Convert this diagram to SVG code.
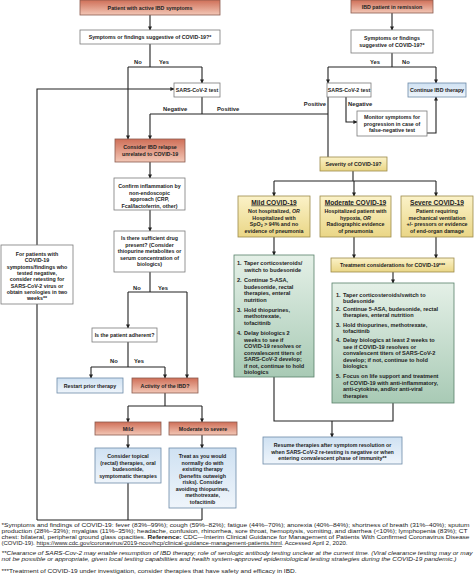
<svg xmlns="http://www.w3.org/2000/svg" width="474" height="587" viewBox="0 0 474 587">
<defs>
<linearGradient id="gRed" x1="0" y1="0" x2="0" y2="1"><stop offset="0" stop-color="#cf6f58"/><stop offset="1" stop-color="#f3c7b6"/></linearGradient>
<linearGradient id="gYel" x1="0" y1="0" x2="0" y2="1"><stop offset="0" stop-color="#fbf2c8"/><stop offset="1" stop-color="#ead686"/></linearGradient>
<linearGradient id="gGrn" x1="0" y1="0" x2="0" y2="1"><stop offset="0" stop-color="#e4f0e7"/><stop offset="1" stop-color="#a8cab5"/></linearGradient>
<linearGradient id="gBlu" x1="0" y1="0" x2="0" y2="1"><stop offset="0" stop-color="#cfe1f2"/><stop offset="1" stop-color="#eff5fb"/></linearGradient>
<marker id="ah" viewBox="0 0 10 10" refX="9" refY="5" markerWidth="4" markerHeight="4" orient="auto" markerUnits="userSpaceOnUse"><path d="M0,0 L10,5 L0,10 Z" fill="#222"/></marker>
</defs>
<style>
.b{stroke:#7b7b7b;stroke-width:0.8;fill:#fff}
.r{fill:url(#gRed);stroke:#8a5a4e;stroke-width:0.8}
.y{fill:url(#gYel);stroke:#9c8a4a;stroke-width:0.8}
.g{fill:url(#gGrn);stroke:#58806a;stroke-width:0.8}
.u{fill:url(#gBlu);stroke:#6d8aa8;stroke-width:0.8}
text{font-family:"Liberation Sans",Arial,sans-serif;fill:#222}
.t{font-size:5.3px;font-weight:bold;text-anchor:middle}
.h{font-size:6.6px;font-weight:bold;text-anchor:middle;text-decoration:underline}
.l{font-size:5.6px;font-weight:bold}
.lb{font-size:5.8px;font-weight:bold}
.f{font-size:5.7px}
.ln{stroke:#222;stroke-width:1.1;fill:none}
.ar{stroke:#222;stroke-width:1.1;fill:none;marker-end:url(#ah)}
</style>
<rect width="474" height="587" fill="#fff"/>

<g id="connectors">
<path class="ar" d="M150,15 V30"/>
<path class="ln" d="M150,44 V67 M128,67 H202"/>
<path class="ar" d="M202,67 V83"/>
<path class="ar" d="M128,67 V139"/>
<path class="ln" d="M202,97 V114 M150,114 H328"/>
<path class="ar" d="M150,114 V139"/>
<path class="ar" d="M392,13 V30"/>
<path class="ln" d="M392,53 V67 M328,67 H436"/>
<path class="ar" d="M328,67 V83"/>
<path class="ar" d="M436,67 V83"/>
<path class="ln" d="M328,97 V157"/>
<path class="ar" d="M346,97 V122 H357"/>
<path class="ar" d="M427,133 H436 V97"/>
<path class="ln" d="M353,171 V181 M274,181 H436"/>
<path class="ar" d="M274,181 V196"/>
<path class="ar" d="M354,181 V196"/>
<path class="ar" d="M436,181 V196"/>
<path class="ar" d="M274,237 V255"/>
<path class="ar" d="M354,237 V258"/>
<path class="ar" d="M436,237 V258"/>
<path class="ar" d="M393,272 V283"/>
<path class="ln" d="M274,377 V421 H393 V403"/>
<path class="ar" d="M332,421 V437"/>
<path class="ar" d="M150,162 V178"/>
<path class="ar" d="M150,210 V231"/>
<path class="ln" d="M150,272 V292 M128,292 H187"/>
<path class="ar" d="M128,292 V328"/>
<path class="ar" d="M187,292 V378"/>
<path class="ln" d="M128,342 V367 M91,367 H165"/>
<path class="ar" d="M91,367 V378"/>
<path class="ar" d="M165,367 V378"/>
<path class="ln" d="M165,393 V406 M128,406 H202"/>
<path class="ar" d="M128,406 V422"/>
<path class="ar" d="M202,406 V422"/>
<path class="ar" d="M128,435 V448"/>
<path class="ar" d="M202,435 V448"/>
<path class="ln" d="M128,483 V520 M202,508 V520 M37,520 H202 M37,520 V304"/>
<path class="ar" d="M37,245 V89 H174"/>
<text class="lb" x="134" y="64">No</text>
<text class="lb" x="159" y="64">Yes</text>
<text class="lb" x="163" y="111">Negative</text>
<text class="lb" x="217" y="111">Positive</text>
<text class="lb" x="370" y="64">Yes</text>
<text class="lb" x="402" y="64">No</text>
<text class="lb" x="326" y="106" text-anchor="end">Positive</text>
<text class="lb" x="348" y="106">Negative</text>
<text class="lb" x="133" y="290">No</text>
<text class="lb" x="158" y="290">Yes</text>
<text class="lb" x="110" y="363">No</text>
<text class="lb" x="134" y="363">Yes</text>
</g>

<g id="n_active"><rect class="r" x="80" y="0" width="140" height="15"/><text class="t" x="150" y="9.5">Patient with active IBD symptoms</text></g>
<g id="n_sym1"><rect class="b" x="80" y="30" width="140" height="14"/><text class="t" x="150" y="39">Symptoms or findings suggestive of COVID-19?*</text></g>
<g id="n_sars1"><rect class="b" x="174" y="83" width="46" height="14"/><text class="t" x="197" y="92">SARS-CoV-2 test</text></g>
<g id="n_remission"><rect class="r" x="351" y="0" width="82" height="13"/><text class="t" x="392" y="8.5">IBD patient in remission</text></g>
<g id="n_sym2"><rect class="b" x="351" y="30" width="82" height="23"/><text class="t" x="392" y="39.5">Symptoms or findings</text><text class="t" x="392" y="46.5">suggestive of COVID-19?*</text></g>
<g id="n_sars2"><rect class="b" x="327" y="83" width="44" height="14"/><text class="t" x="349" y="92">SARS-CoV-2 test</text></g>
<g id="n_continue"><rect class="u" x="408" y="83" width="58" height="14"/><text class="t" x="437" y="92">Continue IBD therapy</text></g>
<g id="n_monitor"><rect class="b" x="357" y="111" width="70" height="25"/><text class="t" x="392" y="119">Monitor symptoms for</text><text class="t" x="392" y="125.5">progression in case of</text><text class="t" x="392" y="132">false-negative test</text></g>
<g id="n_severity"><rect class="y" x="320" y="157" width="67" height="14"/><text class="t" x="353.5" y="166">Severity of COVID-19?</text></g>
<g id="n_mild"><rect class="y" x="238" y="196" width="72" height="41"/><text class="h" x="274" y="204.5">Mild COVID-19</text><text class="t" x="274" y="213">Not hospitalized, <tspan font-style="italic">OR</tspan></text><text class="t" x="274" y="219.5">Hospitalized with</text><text class="t" x="274" y="226">SpO<tspan font-size="3.6px" dy="1">2</tspan><tspan dy="-1"> &gt; 94% and no</tspan></text><text class="t" x="274" y="232.5">evidence of pneumonia</text></g>
<g id="n_moderate"><rect class="y" x="320" y="196" width="71" height="41"/><text class="h" x="355.5" y="204.5">Moderate COVID-19</text><text class="t" x="355.5" y="213">Hospitalized patient with</text><text class="t" x="355.5" y="219.5">hypoxia, <tspan font-style="italic">OR</tspan></text><text class="t" x="355.5" y="226">Radiographic evidence</text><text class="t" x="355.5" y="232.5">of pneumonia</text></g>
<g id="n_severe"><rect class="y" x="401" y="196" width="72" height="41"/><text class="h" x="437" y="204.5">Severe COVID-19</text><text class="t" x="437" y="213">Patient requiring</text><text class="t" x="437" y="219.5">mechanical ventilation</text><text class="t" x="437" y="226">+/- pressors or evidence</text><text class="t" x="437" y="232.5">of end-organ damage</text></g>
<g id="n_tx_mild"><rect class="g" x="234" y="255" width="80" height="122"/>
<text class="l" x="237" y="265">1.</text><text class="l" x="244" y="265">Taper corticosteroids/</text><text class="l" x="244" y="271.5">switch to budesonide</text>
<text class="l" x="237" y="282">2.</text><text class="l" x="244" y="282">Continue 5-ASA,</text><text class="l" x="244" y="288.5">budesonide, rectal</text><text class="l" x="244" y="295">therapies, enteral</text><text class="l" x="244" y="301.5">nutrition</text>
<text class="l" x="237" y="311.5">3.</text><text class="l" x="244" y="311.5">Hold thiopurines,</text><text class="l" x="244" y="318">methotrexate,</text><text class="l" x="244" y="324.5">tofacitinib</text>
<text class="l" x="237" y="335">4.</text><text class="l" x="244" y="335">Delay biologics 2</text><text class="l" x="244" y="341.5">weeks to see if</text><text class="l" x="244" y="348">COVID-19 resolves or</text><text class="l" x="244" y="354.5">convalescent titers of</text><text class="l" x="244" y="361">SARS-CoV-2 develop;</text><text class="l" x="244" y="367.5">if not, continue to hold</text><text class="l" x="244" y="374">biologics</text>
</g>
<g id="n_tx_cons"><rect class="y" x="331" y="258" width="123" height="14"/><text class="t" x="392.5" y="267">Treatment considerations for COVID-19***</text></g>
<g id="n_tx_mod"><rect class="g" x="332" y="283" width="122" height="120"/>
<text class="l" x="336" y="297">1.</text><text class="l" x="343" y="297">Taper corticosteroids/switch to</text><text class="l" x="343" y="303">budesonide</text>
<text class="l" x="336" y="311">2.</text><text class="l" x="343" y="311">Continue 5-ASA, budesonide, rectal</text><text class="l" x="343" y="317">therapies, enteral nutrition</text>
<text class="l" x="336" y="327">3.</text><text class="l" x="343" y="327">Hold thiopurines, methotrexate,</text><text class="l" x="343" y="333">tofacitinib</text>
<text class="l" x="336" y="342">4.</text><text class="l" x="343" y="342">Delay biologics at least 2 weeks to</text><text class="l" x="343" y="348.5">see if COVID-19 resolves or</text><text class="l" x="343" y="355">convalescent titers of SARS-CoV-2</text><text class="l" x="343" y="361.5">develop; if not, continue to hold</text><text class="l" x="343" y="368">biologics</text>
<text class="l" x="336" y="378">5.</text><text class="l" x="343" y="378">Focus on life support and treatment</text><text class="l" x="343" y="384.5">of COVID-19 with anti-inflammatory,</text><text class="l" x="343" y="391">anti-cytokine, and/or anti-viral</text><text class="l" x="343" y="397.5">therapies</text>
</g>
<g id="n_resume"><rect class="u" x="263" y="437" width="139" height="27"/><text class="t" x="332.5" y="447">Resume therapies after symptom resolution or</text><text class="t" x="332.5" y="453.5">when SARS-CoV-2 re-testing is negative or when</text><text class="t" x="332.5" y="460">entering convalescent phase of immunity**</text></g>
<g id="n_relapse"><rect class="r" x="115" y="139" width="70" height="23"/><text class="t" x="150" y="149">Consider IBD relapse</text><text class="t" x="150" y="156">unrelated to COVID-19</text></g>
<g id="n_confirm"><rect class="b" x="114" y="178" width="71" height="32"/><text class="t" x="149.5" y="188">Confirm inflammation by</text><text class="t" x="149.5" y="194.5">non-endoscopic</text><text class="t" x="149.5" y="201">approach (CRP,</text><text class="t" x="149.5" y="207.5">Fcal/lactoferrin, other)</text></g>
<g id="n_drug"><rect class="b" x="114" y="231" width="71" height="41"/><text class="t" x="149.5" y="240">Is there sufficient drug</text><text class="t" x="149.5" y="246.5">present? (Consider</text><text class="t" x="149.5" y="253">thiopurine metabolites or</text><text class="t" x="149.5" y="259.5">serum concentration of</text><text class="t" x="149.5" y="266">biologics)</text></g>
<g id="n_adherent"><rect class="b" x="92" y="328" width="65" height="14"/><text class="t" x="124.5" y="337">Is the patient adherent?</text></g>
<g id="n_restart"><rect class="u" x="57" y="378" width="66" height="15"/><text class="t" x="90" y="387.5">Restart prior therapy</text></g>
<g id="n_activity"><rect class="r" x="132" y="378" width="66" height="15"/><text class="t" x="165" y="387.5">Activity of the IBD?</text></g>
<g id="n_mild2"><rect class="r" x="95" y="422" width="66" height="13"/><text class="t" x="128" y="430.5">Mild</text></g>
<g id="n_modsev"><rect class="r" x="169" y="422" width="68" height="13"/><text class="t" x="203" y="430.5">Moderate to severe</text></g>
<g id="n_topical"><rect class="u" x="95" y="448" width="66" height="35"/><text class="t" x="128" y="458">Consider topical</text><text class="t" x="128" y="464.5">(rectal) therapies, oral</text><text class="t" x="128" y="471">budesonide,</text><text class="t" x="128" y="477.5">symptomatic therapies</text></g>
<g id="n_treat"><rect class="u" x="169" y="448" width="67" height="60"/><text class="t" x="202.5" y="458">Treat as you would</text><text class="t" x="202.5" y="464.5">normally do with</text><text class="t" x="202.5" y="471">existing therapy</text><text class="t" x="202.5" y="477.5">(benefits outweigh</text><text class="t" x="202.5" y="484">risks). Consider</text><text class="t" x="202.5" y="490.5">avoiding thiopurines,</text><text class="t" x="202.5" y="497">methotrexate,</text><text class="t" x="202.5" y="503.5">tofacitinib</text></g>
<g id="n_forpatients"><rect class="b" x="1" y="245" width="72" height="59"/><text class="t" x="37" y="256">For patients with</text><text class="t" x="37" y="262.3">COVID-19</text><text class="t" x="37" y="268.6">symptoms/findings who</text><text class="t" x="37" y="275">tested negative,</text><text class="t" x="37" y="281.3">consider retesting for</text><text class="t" x="37" y="287.6">SARS-CoV-2 virus or</text><text class="t" x="37" y="294">obtain serologies in two</text><text class="t" x="37" y="300.3">weeks**</text></g>

<g id="footnotes">
<text class="f" x="1.5" y="527" textLength="468" lengthAdjust="spacingAndGlyphs">*Symptoms and findings of COVID-19: fever (83%–99%); cough (59%–82%); fatigue (44%–70%); anorexia (40%–84%); shortness of breath (31%–40%); sputum</text>
<text class="f" x="1.5" y="533" textLength="466" lengthAdjust="spacingAndGlyphs">production (28%–33%); myalgias (11%–35%); headache, confusion, rhinorrhea, sore throat, hemoptysis, vomiting, and diarrhea (&lt;10%); lymphopenia (83%); CT</text>
<text class="f" x="1.5" y="539" textLength="468" lengthAdjust="spacingAndGlyphs">chest: bilateral, peripheral ground glass opacities. <tspan font-weight="bold">Reference:</tspan> CDC—Interim Clinical Guidance for Management of Patients With Confirmed Coronavirus Disease</text>
<text class="f" x="1.5" y="545" textLength="346" lengthAdjust="spacingAndGlyphs">(COVID-19). <tspan text-decoration="underline">https://www.cdc.gov/coronavirus/2019-ncov/hcp/clinical-guidance-management-patients.html</tspan>. Accessed April 2, 2020.</text>
<text class="f" x="1.5" y="555" font-style="italic" textLength="471" lengthAdjust="spacingAndGlyphs">**Clearance of SARS-Cov-2 may enable resumption of IBD therapy; role of serologic antibody testing unclear at the current time. (Viral clearance testing may or may</text>
<text class="f" x="1.5" y="561" font-style="italic" textLength="455" lengthAdjust="spacingAndGlyphs">not be possible or appropriate, given local testing capabilities and health system-approved epidemiological testing strategies during the COVID-19 pandemic.)</text>
<text class="f" x="1.5" y="573" textLength="295" lengthAdjust="spacingAndGlyphs">***Treatment of COVID-19 under investigation, consider therapies that have safety and efficacy in IBD.</text>
</g>
</svg>
